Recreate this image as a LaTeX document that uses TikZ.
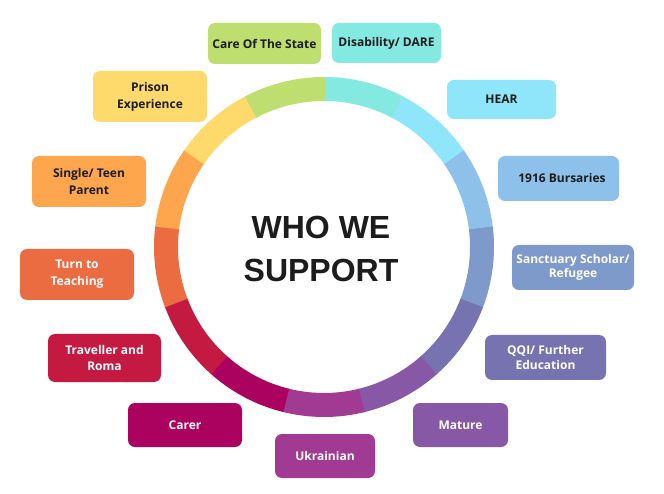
\documentclass[tikz,border=0pt]{standalone}
\usepackage{fontspec}
\setmainfont{Open Sans}
\newfontfamily\titlefont{Liberation Sans}
\definecolor{cgreen}{HTML}{BEDF6F}
\definecolor{cdis}{HTML}{84E9E1}
\definecolor{chear}{HTML}{8FE6FB}
\definecolor{cbur}{HTML}{8EC1E9}
\definecolor{csanc}{HTML}{7E9ACA}
\definecolor{cqqi}{HTML}{7773B1}
\definecolor{cmat}{HTML}{8758A6}
\definecolor{cukr}{HTML}{A03A93}
\definecolor{ccarer}{HTML}{AB025F}
\definecolor{ctrav}{HTML}{C41A41}
\definecolor{cturn}{HTML}{EC6C42}
\definecolor{csingle}{HTML}{FEA64D}
\definecolor{cprison}{HTML}{FED96C}
\definecolor{textdark}{HTML}{1C1C1C}
\begin{document}
\begin{tikzpicture}[x=1pt,y=1pt,
  box/.style={rounded corners=7pt, inner sep=0pt, align=center,
    font=\bfseries\fontsize{12}{17}\selectfont, text=textdark},
  boxw/.style={box, text=white},
  tight/.style={font=\bfseries\fontsize{12}{14.5}\selectfont}]
\useasboundingbox (0,0) rectangle (664,493);
\fill[white] (0,0) rectangle (664,493);
% ring
\begin{scope}[shift={(324,246)}]
\foreach \c [count=\i from 0] in {cdis,chear,cbur,csanc,cqqi,cmat,cukr,ccarer,ctrav,cturn,csingle,cprison,cgreen}{
  \pgfmathsetmacro\aa{90-\i*360/13}
  \pgfmathsetmacro\ab{\aa-360/13-0.3}
  \fill[\c] (\aa:170pt) arc[start angle=\aa, end angle=\ab, radius=170pt]
    -- (\ab:146pt) arc[start angle=\ab, end angle=\aa, radius=146pt] -- cycle;
}
\end{scope}
\node[inner sep=0pt, align=center, text=textdark,
  font=\titlefont\bfseries\fontsize{32}{43}\selectfont] (title) at (321,244) {WHO WE\\SUPPORT};
% boxes
\node[box, fill=cgreen, minimum width=113pt, minimum height=41pt] (care) at (264.5,449.5) {Care Of The State};
\node[box, fill=cdis, minimum width=109pt, minimum height=40pt] (dis) at (386.5,450) {Disability/ DARE};
\node[box, fill=chear, minimum width=109pt, minimum height=39pt] (hear) at (501.5,393.5) {HEAR};
\node[box, fill=cbur, minimum width=121pt, minimum height=45pt] (bur) at (558.5,314.5) {\hspace{7pt}1916 Bursaries};
\node[boxw, tight, fill=csanc, minimum width=122pt, minimum height=45pt] (sanc) at (573,225.5) {Sanctuary Scholar/\\Refugee};
\node[boxw, tight, fill=cqqi, minimum width=121pt, minimum height=45pt] (qqi) at (545.5,135.5) {QQI/ Further\\Education};
\node[boxw, fill=cmat, minimum width=95pt, minimum height=44pt] (mat) at (460.5,68) {Mature};
\node[boxw, fill=cukr, minimum width=100pt, minimum height=44pt] (ukr) at (325,37) {Ukrainian};
\node[boxw, fill=ccarer, minimum width=114pt, minimum height=44pt] (carer) at (185,68) {Carer};
\node[boxw, fill=ctrav, minimum width=113pt, minimum height=48pt] (trav) at (104.5,135) {Traveller and\\Roma};
\node[boxw, fill=cturn, minimum width=114pt, minimum height=51pt] (turn) at (77,218.5) {Turn to\\Teaching};
\node[box, fill=csingle, minimum width=114pt, minimum height=51pt] (single) at (89,311.5) {Single/ Teen\\Parent};
\node[box, fill=cprison, minimum width=114pt, minimum height=51pt] (prison) at (150,396.5) {Prison\\Experience};
\end{tikzpicture}
\end{document}
